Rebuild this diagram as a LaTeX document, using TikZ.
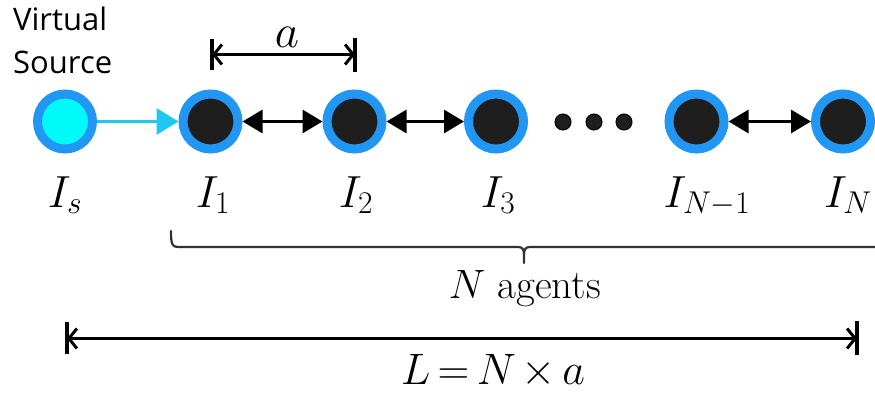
\RequirePackage{fix-cm}
\documentclass[tikz,border=0pt]{standalone}
\usepackage{fontspec}
\newfontfamily\vsfont{Open Sans}
\usetikzlibrary{arrows.meta}
\definecolor{ringblue}{RGB}{33,150,243}
\definecolor{arrcyan}{RGB}{30,200,240}
\definecolor{srccyan}{RGB}{0,250,250}
\definecolor{nodeblack}{RGB}{30,30,30}
\definecolor{bracegray}{RGB}{50,50,50}
\begin{document}
\begin{tikzpicture}[x=1pt,y=-1pt,
  agent/.style={circle,draw=ringblue,line width=9pt,fill=nodeblack,minimum size=55pt,inner sep=0pt},
  source/.style={agent,fill=srccyan},
  link/.style={line width=3pt,{Triangle[length=20pt,width=23pt]}-{Triangle[length=20pt,width=23pt]}},
  feed/.style={line width=3.5pt,arrcyan,-{Triangle[length=22pt,width=26pt]}},
  lbl/.style={anchor=base,inner sep=0pt,font=\fontsize{45}{50}\selectfont},
  dimline/.style={line width=3pt,{Straight Barb[length=8pt,width=20pt,line width=3pt]}-{Straight Barb[length=8pt,width=20pt,line width=3pt]}},
  dimbar/.style={line width=4.5pt},
  dotn/.style={circle,fill=nodeblack,draw=black,line width=1pt,minimum size=16pt,inner sep=0pt},
  vs/.style={anchor=base west,inner sep=0pt,font=\vsfont\fontsize{31}{40}\selectfont}
]
\useasboundingbox (0,0) rectangle (875,394);

% labels for virtual source
\node[vs] (vs1) at (13,30) {Virtual};
\node[vs] (vs2) at (13,73) {Source};

% nodes
\node[source] (Is) at (65,121.5) {};
\node[agent] (I1) at (210.5,121.5) {};
\node[agent] (I2) at (354.5,121.5) {};
\node[agent] (I3) at (496,121.5) {};
\node[agent] (IN1) at (696.5,121.5) {};
\node[agent] (IN) at (843,121.5) {};

% dots
\node[dotn] (d1) at (563,122) {};
\node[dotn] (d2) at (594,122) {};
\node[dotn] (d3) at (624,122) {};

% connectors
\draw[feed] (Is) -- (I1);
\draw[link] (I1) -- (I2);
\draw[link] (I2) -- (I3);
\draw[link] (IN1) -- (IN);

% node labels
\node[lbl] (lIs) at (65,207) {$I_s$};
\node[lbl] (lI1) at (213,207) {$I_1$};
\node[lbl] (lI2) at (356,207) {$I_2$};
\node[lbl] (lI3) at (498,207) {$I_3$};
\node[lbl] (lIN1) at (707,207) {$I_{N-1}$};
\node[lbl] (lIN) at (848,207) {$I_N$};

% spacing dimension a
\coordinate (aL) at (212,54.5);
\coordinate (aR) at (355,54.5);
\draw[dimbar] (212,39) -- (212,70);
\draw[dimbar] (355,38) -- (355,72);
\draw[dimline] (aL) -- (aR);
\node[anchor=base,inner sep=0pt,font=\fontsize{47}{50}\selectfont] (la) at (287,47) {$a$};

% brace
\draw[bracegray,line width=2.2pt,line cap=round]
  (171,231) .. controls (171,244) and (172,247) .. (178,247) -- (518,247)
  .. controls (522,247) and (524,249) .. (524,254) -- (524,263);
\draw[bracegray,line width=2.2pt]
  (524,254) .. controls (524,249) and (526,247) .. (530,247) -- (876,247);
\node[anchor=base,inner sep=0pt,font=\fontsize{41}{45}\selectfont] (lag) at (525,298) {$N$ agents};

% total length dimension
\coordinate (LL) at (67,338.5);
\coordinate (LR) at (857,338.5);
\draw[dimbar] (67,322) -- (67,354);
\draw[dimbar] (857,321) -- (857,355);
\draw[dimline] (LL) -- (LR);
\node[anchor=base,inner sep=0pt,font=\fontsize{44}{48}\selectfont] (lL) at (493,384)
  {\thickmuskip=3mu \medmuskip=2.5mu $L = N \times a$};

\end{tikzpicture}
\end{document}
